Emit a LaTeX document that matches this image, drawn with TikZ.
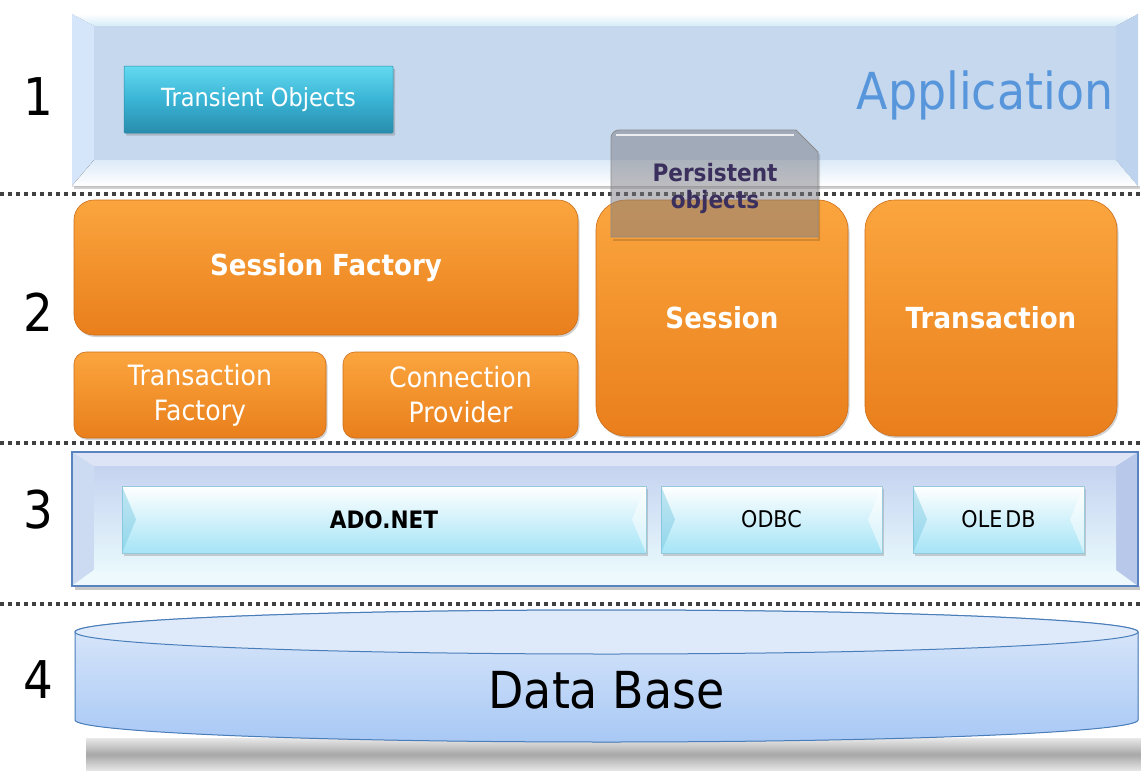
\documentclass[tikz,border=0pt]{standalone}
\usepackage{fontspec}
\setmainfont{DejaVu Sans}[FakeStretch=0.9]
\usetikzlibrary{shadows,calc}
\definecolor{orTop}{RGB}{251,165,62}
\definecolor{orBot}{RGB}{233,127,28}
\definecolor{orBorder}{RGB}{205,110,25}
\definecolor{appIn}{RGB}{198,216,238}
\definecolor{appTopB}{RGB}{213,236,248}
\definecolor{appLeft}{RGB}{214,230,250}
\definecolor{appBotT}{RGB}{220,234,248}
\definecolor{appRight}{RGB}{189,211,238}
\definecolor{appBlue}{RGB}{88,150,220}
\definecolor{tealTop}{RGB}{100,218,240}
\definecolor{tealMid}{RGB}{58,180,213}
\definecolor{tealBot}{RGB}{40,140,172}
\definecolor{cellBot}{RGB}{165,228,246}
\definecolor{cellEdge}{RGB}{150,200,220}
\definecolor{cellTri}{RGB}{120,200,225}
\definecolor{panBorder}{RGB}{90,132,192}
\definecolor{panTop}{RGB}{220,228,246}
\definecolor{panLeft}{RGB}{204,218,242}
\definecolor{panBot}{RGB}{238,249,253}
\definecolor{panRight}{RGB}{183,200,234}
\definecolor{panInT}{RGB}{197,211,240}
\definecolor{panInB}{RGB}{232,248,252}
\definecolor{dbTop}{RGB}{222,234,250}
\definecolor{dbBot}{RGB}{168,200,245}
\definecolor{dbBorder}{RGB}{74,126,187}
\definecolor{poText}{RGB}{59,47,94}
\definecolor{poFill}{RGB}{125,125,132}
\newcommand\fsz[2]{\fontsize{#1}{#2}\selectfont}
\begin{document}
\begin{tikzpicture}[x=1pt,y=-1pt,
  sep/.style={draw=black!75, line width=3.5pt, dash pattern=on 3.5pt off 4.5pt},
  obox/.style={rounded corners=#1, draw=orBorder, line width=0.6pt,
     top color=orTop, bottom color=orBot, text=white, align=center,
     inner sep=0pt, outer sep=0pt,
     drop shadow={shadow xshift=1.5pt, shadow yshift=-2pt, opacity=0.35}},
  obox/.default=14,
  cellbox/.style={top color=white, bottom color=cellBot, draw=cellEdge,
     line width=0.4pt, inner sep=0pt, outer sep=0pt, minimum height=67pt,
     drop shadow={shadow xshift=2pt, shadow yshift=-2.5pt, opacity=0.35}},
  num/.style={font=\fsz{52}{60}, text=black},
]
\useasboundingbox (0,0) rectangle (1141,771);
\fill[white] (0,0) rectangle (1141,771);

% ---------- Layer 1 panel ----------
\fill[black!30, opacity=0.6] (74,186) rectangle (1140,189);
\fill[top color=white, bottom color=appTopB] (72,14) -- (1138,14) -- (1116,26) -- (94,26) -- cycle;
\fill[appLeft] (72,14) -- (94,26) -- (94,160) -- (72,186) -- cycle;
\fill[top color=appBotT, bottom color=white] (72,186) -- (94,160) -- (1116,160) -- (1138,186) -- cycle;
\fill[appRight] (1138,14) -- (1116,26) -- (1116,160) -- (1138,186) -- cycle;
\fill[appIn] (94,26) rectangle (1116,160);
\node[text=appBlue, font=\fsz{51}{60}, anchor=center] (app) at (985,95) {Application};
\node[rounded corners=1pt, top color=tealTop, bottom color=tealBot, middle color=tealMid,
      draw=tealBot, line width=0.5pt, minimum width=269pt, minimum height=67pt, inner sep=0pt,
      text=white, font=\fsz{25}{30},
      drop shadow={shadow xshift=2pt, shadow yshift=-2.5pt, opacity=0.4}] (tro) at (258.5,99.5) {Transient Objects};

% ---------- separators ----------
\draw[sep] (0,194) -- (1141,194);
\draw[sep] (0,443) -- (1141,443);
\draw[sep] (0,604) -- (1141,604);

% ---------- numbers ----------
\node[num] (n1) at (38,97) {1};
\node[num] (n2) at (38,312) {2};
\node[num] (n3) at (38,510) {3};
\node[num] (n4) at (38,680) {4};

% ---------- Layer 2 ----------
\node[obox=20, minimum width=504pt, minimum height=135pt, font=\bfseries\fsz{29}{34}] (sf) at (326,267.5) {Session Factory};
\node[obox=12, minimum width=252pt, minimum height=86pt, font=\fsz{28}{35}] (tf) at (200,395) {Transaction\\Factory};
\node[obox=12, minimum width=235pt, minimum height=86pt, font=\fsz{28}{35}] (cp) at (460.5,395) {Connection\\Provider};
\node[obox=30, minimum width=252pt, minimum height=236pt, font=\bfseries\fsz{29}{34}] (ses) at (722,318) {Session};
\node[obox=30, minimum width=252pt, minimum height=236pt, font=\bfseries\fsz{29}{34}] (trn) at (991,318) {Transaction};

% persistent objects
\fill[black, opacity=0.15] (613,239) -- (820,239) -- (820,241) -- (613,241) -- cycle;
\fill[black, opacity=0.15] (818,153) -- (820,155) -- (820,239) -- (818,239) -- cycle;
\filldraw[draw=black!45, line width=0.8pt, fill=poFill, fill opacity=0.5]
   (611,237) -- (611,143) [rounded corners=8pt] -- (611,130) [sharp corners] -- (796,130) -- (818,152) -- (818,237) -- cycle;
\draw[white, line width=1.5pt, opacity=0.8] (616,135) -- (794,135);
\node[text=poText, font=\bfseries\fsz{24}{27}, align=center] (po) at (715,188) {Persistent\\objects};

% ---------- Layer 3 panel ----------
\fill[black!35, opacity=0.6] (75,586) rectangle (1140,590);
\fill[panTop] (72,452) -- (1138,452) -- (1116,466) -- (94,466) -- cycle;
\fill[panLeft] (72,452) -- (94,466) -- (94,570) -- (72,586) -- cycle;
\fill[panBot] (72,586) -- (94,570) -- (1116,570) -- (1138,586) -- cycle;
\fill[panRight] (1138,452) -- (1116,466) -- (1116,570) -- (1138,586) -- cycle;
\fill[top color=panInT, bottom color=panInB] (94,466) rectangle (1116,570);
\draw[panBorder, line width=1.5pt] (72,452) rectangle (1138,586);

\node[cellbox, minimum width=524pt, font=\bfseries\fsz{24}{28}] (ado) at (384,519.5) {ADO.NET};
\node[cellbox, minimum width=221pt, font=\fsz{23}{28}] (odbc) at (771.5,519.5) {ODBC};
\node[cellbox, minimum width=171pt, font=\fsz{23}{28}] (oledb) at (998.5,519.5) {{\spaceskip=3pt OLE DB}};
\foreach \c in {ado,odbc,oledb}{
  \fill[cellTri, opacity=0.45] (\c.north west) -- ($(\c.west)+(14,0)$) -- (\c.south west) -- cycle;
  \fill[white, opacity=0.5] (\c.north east) -- ($(\c.east)+(-14,0)$) -- (\c.south east) -- cycle;
}

% ---------- Layer 4 : database ----------
\fill[top color=white, bottom color=white, middle color=black!28, opacity=0.9] (86,738) rectangle (1141,771);
\filldraw[draw=dbBorder, line width=1pt, top color=dbTop, bottom color=dbBot]
  (75,632) -- (75,720) arc (180:0:531.5 and 22) -- (1138,632) arc (0:-180:531.5 and 22) -- cycle;
\draw[dbBorder, line width=1pt, fill=dbTop] (606.5,632) ellipse (531.5 and 22);
\node[font=\fsz{51}{60}] (db) at (606.5,690) {Data Base};
\end{tikzpicture}
\end{document}
